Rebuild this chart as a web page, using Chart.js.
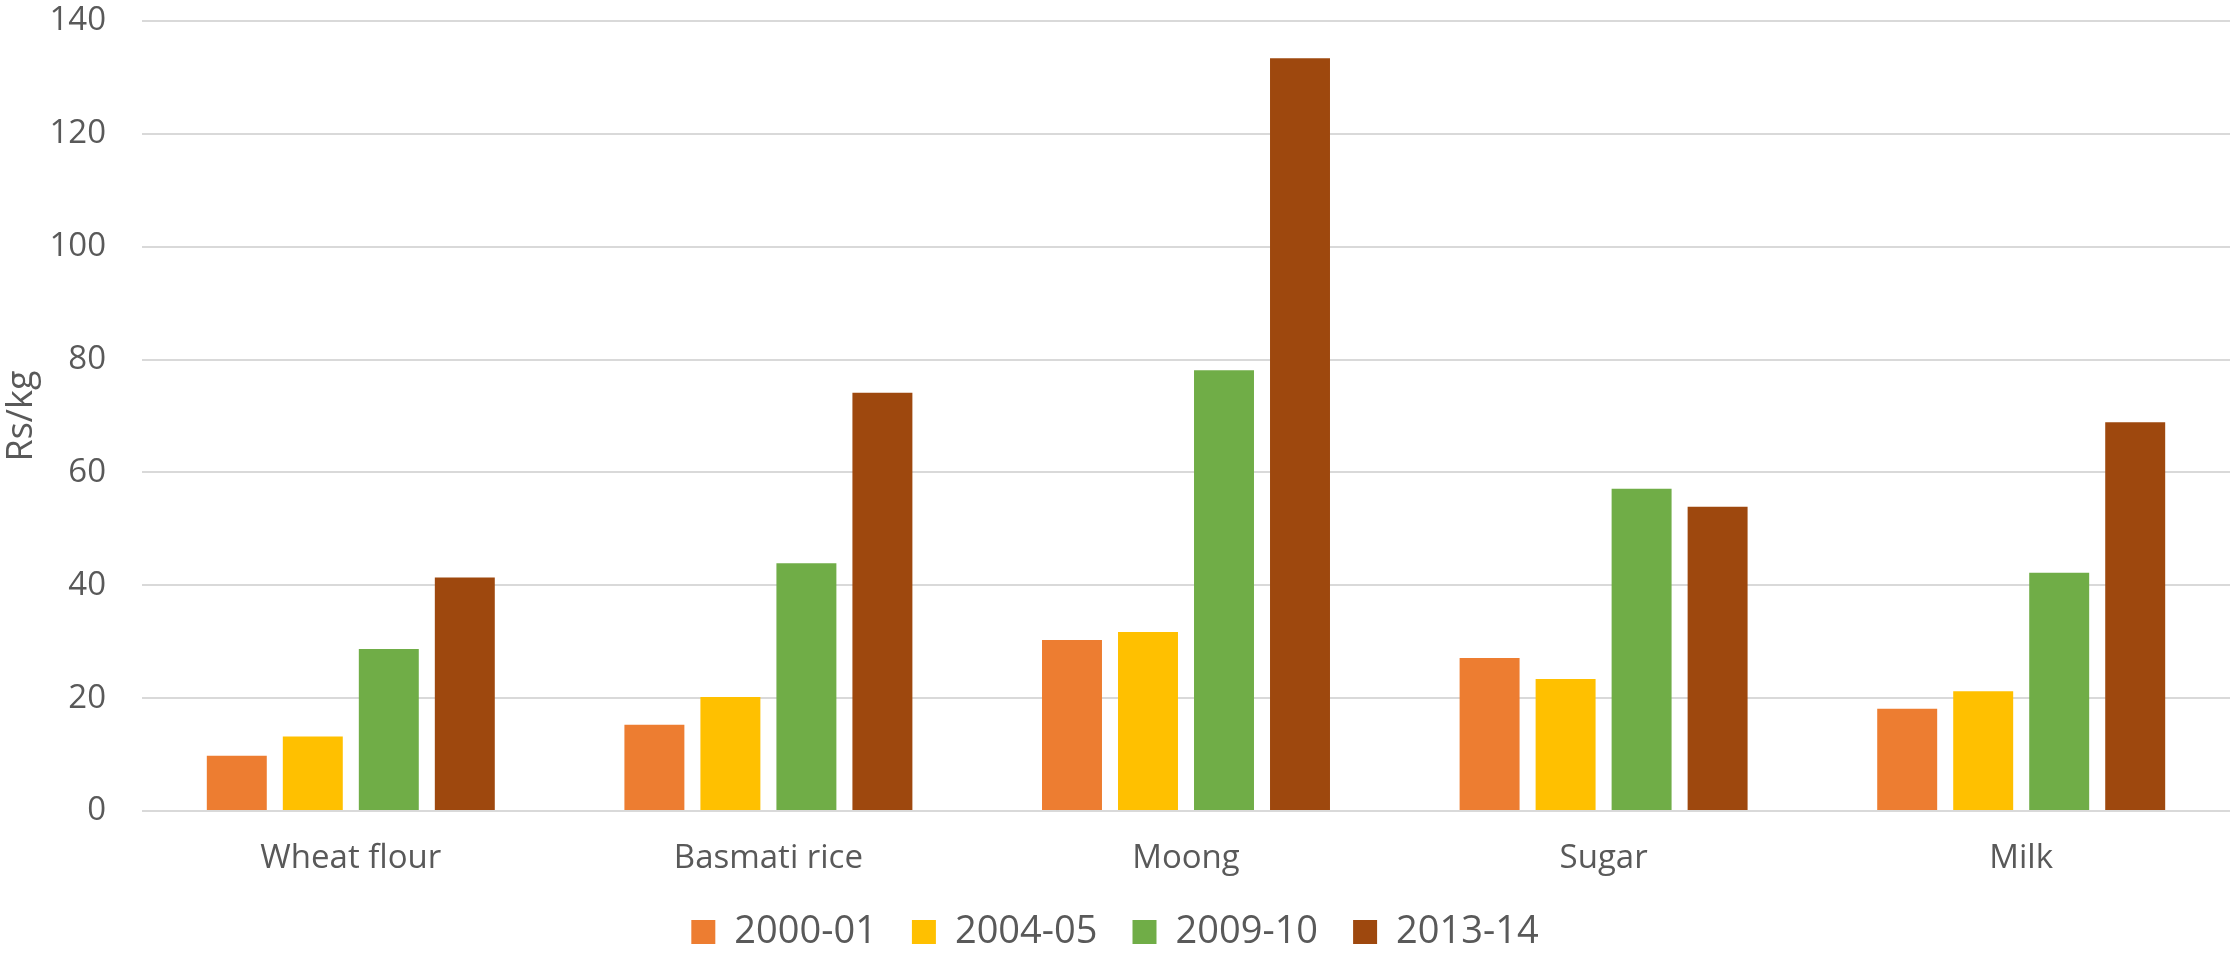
<!DOCTYPE html>
<html>
<head>
<meta charset="utf-8">
<script src="https://cdn.jsdelivr.net/npm/chart.js@4"></script>
<style>
  html, body { margin: 0; padding: 0; background: #ffffff; }
  #wrap { width: 2233px; height: 953px; }
</style>
</head>
<body>
<div id="wrap"><canvas id="c" width="2233" height="953"></canvas></div>
<script>
const categories = ["Wheat flour", "Basmati rice", "Moong", "Sugar", "Milk"];
const seriesNames = ["2000-01", "2004-05", "2009-10", "2013-14"];
const values2000 = [9.8, 15.3, 30.3, 27.1, 18.1];
const values2004 = [13.2, 20.2, 31.7, 23.4, 21.2];
const values2009 = [28.7, 43.9, 78.1, 57.1, 42.2];
const values2013 = [41.4, 74.1, 133.4, 53.9, 68.9];
const yTicks = [0, 20, 40, 60, 80, 100, 120, 140];
const yTitle = "Rs/kg";

const colors = ["#ED7D31", "#FFC000", "#70AD47", "#9E480E"];
const allValues = [values2000, values2004, values2009, values2013];
const textColor = "#595959";
const FONT = "'Open Sans', 'Liberation Sans', sans-serif";

new Chart(document.getElementById("c"), {
  type: "bar",
  data: {
    labels: categories,
    datasets: seriesNames.map((name, i) => ({
      label: name,
      data: allValues[i],
      backgroundColor: colors[i],
      borderWidth: 0,
      categoryPercentage: 0.728,
      barPercentage: 0.789
    }))
  },
  options: {
    responsive: false,
    devicePixelRatio: 1,
    animation: false,
    layout: { padding: { top: 21, right: 3, bottom: -8, left: 0 } },
    plugins: {
      tooltip: { enabled: false },
      legend: {
        position: "bottom",
        labels: {
          boxWidth: 24,
          boxHeight: 24,
          padding: 35,
          color: textColor,
          font: { family: FONT, size: 38 }
        }
      }
    },
    scales: {
      x: {
        grid: { display: false, drawTicks: false },
        border: { display: false },
        ticks: { color: textColor, padding: 28, font: { family: FONT, size: 33 } },
        afterFit: (s) => { s.height = 67; }
      },
      y: {
        min: 0,
        max: 140,
        afterBuildTicks: (s) => { s.ticks = yTicks.map(v => ({ value: v })); },
        grid: { color: "#D9D9D9", lineWidth: 2, drawTicks: true, tickLength: 36, tickColor: "rgba(0,0,0,0)" },
        border: { display: false },
        ticks: { color: textColor, padding: 0, font: { family: FONT, size: 33 } },
        title: {
          display: true,
          text: yTitle,
          color: textColor,
          padding: 0,
          font: { family: FONT, size: 36 }
        },
        afterFit: (s) => { s.width = 142; }
      }
    }
  }
});
</script>
</body>
</html>
